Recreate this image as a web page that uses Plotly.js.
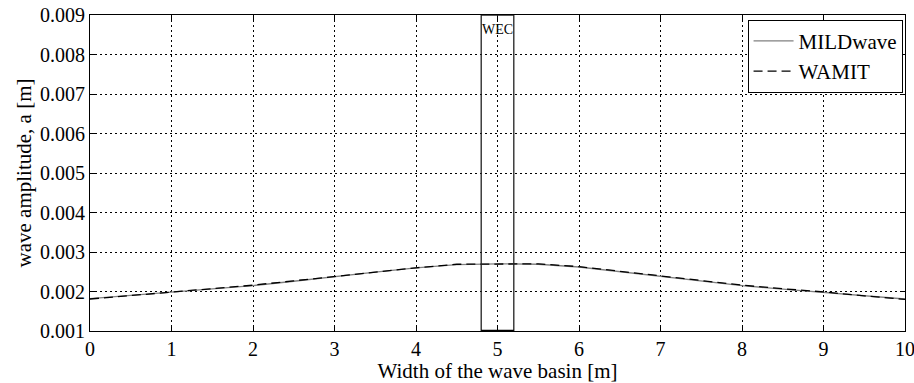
<!DOCTYPE html>
<html><head><meta charset="utf-8">
<script src="https://cdn.plot.ly/plotly-3.0.1.min.js"></script>
<style>html,body{margin:0;padding:0;background:#fff}#chart{width:914px;height:383px}</style>
</head><body><div id="chart"></div>
<script>
const xPos = [0,0.5,1,1.5,2,2.5,3,3.5,4,4.5,5,5.5,6,6.5,7,7.5,8,8.5,9,9.5,10];
const mildwave = [0.00182,0.0019,0.00198,0.00207,0.00215,0.00226,0.00238,0.00249,0.0026,0.00268,0.0027,0.00269,0.00262,0.0025,0.00239,0.00227,0.00215,0.00206,0.00198,0.0019,0.00181];
const wamit = [0.00181,0.0019,0.00199,0.00207,0.00216,0.00227,0.00238,0.0025,0.0026,0.00269,0.0027,0.0027,0.00263,0.00251,0.0024,0.00228,0.00216,0.00207,0.00199,0.00189,0.0018];
const wecLeft = 4.8, wecRight = 5.2;
const yTicks = [0.001,0.002,0.003,0.004,0.005,0.006,0.007,0.008,0.009];
const xTicks = [0,1,2,3,4,5,6,7,8,9,10];
const font = "Liberation Serif, Times New Roman, serif";

const traces = [
  {x: xPos, y: mildwave, name: 'MILDwave', mode: 'lines', line: {color: '#808080', width: 1.3}},
  {x: xPos, y: wamit, name: 'WAMIT', mode: 'lines', line: {color: '#000', width: 1.3, dash: '9px,5px'}}
];
const axisCommon = {
  showline: true, mirror: 'ticks', linecolor: '#000', linewidth: 1,
  ticks: 'inside', ticklen: 5, tickcolor: '#000',
  showgrid: true, gridcolor: '#000', gridwidth: 1, griddash: '2px,3px',
  zeroline: false, ticklabeloverflow: 'allow', tickfont: {family: font, size: 20, color: '#000'}
};
const layout = {
  width: 914, height: 383,
  margin: {l: 90, r: 9, t: 15, b: 52},
  paper_bgcolor: '#fff', plot_bgcolor: '#fff',
  font: {family: font, color: '#000'},
  xaxis: Object.assign({}, axisCommon, {range: [0, 10], tickvals: xTicks, ticktext: xTicks.map(String),
    title: {text: 'Width of the wave basin [m]', font: {family: font, size: 21}, standoff: 0}}),
  yaxis: Object.assign({}, axisCommon, {range: [0.001, 0.009], tickvals: yTicks, ticktext: yTicks.map(v => v.toFixed(3)),
    title: {text: 'wave amplitude, a [m]', font: {family: font, size: 21}, standoff: 2}}),
  legend: {x: 0.997, y: 0.985, xanchor: 'right', yanchor: 'top', bgcolor: '#fff', bordercolor: '#000', borderwidth: 1,
    font: {family: font, size: 21}, itemwidth: 40, tracegroupgap: 0},
  shapes: [
    {type: 'rect', xref: 'x', yref: 'y', x0: wecLeft, x1: wecRight, y0: 0.001, y1: 0.009, line: {color: '#222', width: 1.3}},
    {type: 'line', xref: 'x', yref: 'y', x0: wecLeft, x1: wecRight, y0: 0.001, y1: 0.001, line: {color: '#000', width: 2.5}}
  ],
  annotations: [
    {xref: 'x', yref: 'y', x: (wecLeft + wecRight) / 2, y: 0.00864, text: 'WEC', showarrow: false, yanchor: 'middle',
      font: {family: font, size: 14, color: '#000'}}
  ],
  showlegend: true
};
Plotly.newPlot('chart', traces, layout, {displayModeBar: false, staticPlot: true});
</script></body></html>
